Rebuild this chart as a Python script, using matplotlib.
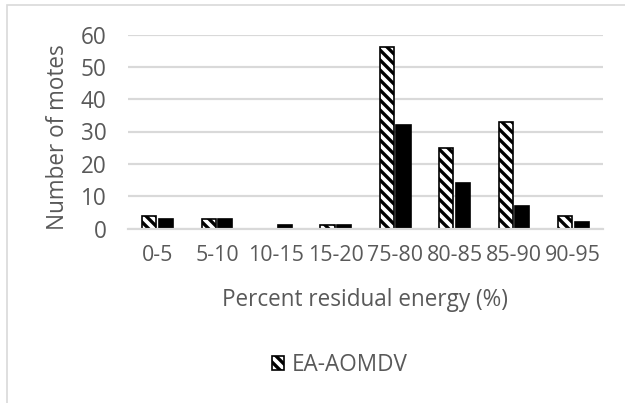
import matplotlib
matplotlib.use("Agg")
import matplotlib.pyplot as plt
import numpy as np
from matplotlib.patches import Rectangle, Patch

categories = ["0-5", "5-10", "10-15", "15-20", "75-80", "80-85", "85-90", "90-95"]
ea_aomdv = [4, 3, 0, 1, 56, 25, 33, 4]
other = [3, 3, 1, 1, 32, 14, 7, 2]
yticks = [0, 10, 20, 30, 40, 50, 60]

DPI = 120
W, H = 625, 403
plt.rcParams['font.family'] = ['Open Sans', 'DejaVu Sans']
plt.rcParams['hatch.linewidth'] = 2.0
TXT = '#595959'
GRID = '#D9D9D9'
FS = 13.5
TFS = 12.8
HATCH = '\\\\\\\\'

fig = plt.figure(figsize=(W / DPI, H / DPI), dpi=DPI)
fig.patch.set_facecolor('white')

# outer chart border
fig.add_artist(Rectangle((7 / W, -0.1), 1.2, 1 - 5 / H + 0.1, transform=fig.transFigure,
                         fill=False, edgecolor=GRID, linewidth=1.0))

ax = fig.add_axes([128 / W, 1 - 228.5 / H, (603 - 128) / W, (228.5 - 34.5) / H])
x = np.arange(len(categories))
bw = 0.236
off = 0.14

ax.bar(x - off, ea_aomdv, width=bw, facecolor='white', edgecolor='black',
       hatch=HATCH, linewidth=1.0, zorder=3)
ax.bar(x + off, other, width=bw, facecolor='black', edgecolor='black',
       linewidth=1.0, zorder=3)

ax.set_xlim(-0.5, len(categories) - 0.5)
ax.set_ylim(0, 60)
ax.set_yticks(yticks)
ax.set_xticks(x)
ax.set_xticklabels(categories)
ax.tick_params(axis='both', length=0, labelsize=TFS, colors=TXT)
ax.tick_params(axis='y', labelsize=FS, pad=13)
ax.tick_params(axis='x', pad=10)
ax.yaxis.grid(True, color=GRID, linewidth=1.3, zorder=0)
ax.set_axisbelow(True)
for s in ['top', 'right', 'left']:
    ax.spines[s].set_visible(False)
ax.spines['bottom'].set_color(GRID)
ax.spines['bottom'].set_linewidth(1.3)
ax.spines['bottom'].set_zorder(4)

fig.text(58 / W, 1 - 137 / H, 'Number of motes', rotation=90, ha='center', va='center',
         fontsize=FS, color=TXT)
fig.text(365 / W, 1 - 300 / H, 'Percent residual energy (%)', ha='center', va='center',
         fontsize=FS, color=TXT)

handle = Patch(facecolor='white', edgecolor='black', hatch=HATCH, linewidth=1.0)
leg = fig.legend([handle], ['EA-AOMDV'], loc='center', bbox_to_anchor=(340 / W, 1 - 365 / H),
                 frameon=False, fontsize=FS, handlelength=0.55, handleheight=0.55,
                 handletextpad=0.35, labelcolor=TXT)

fig.savefig('out.png', dpi=DPI, facecolor='white')
